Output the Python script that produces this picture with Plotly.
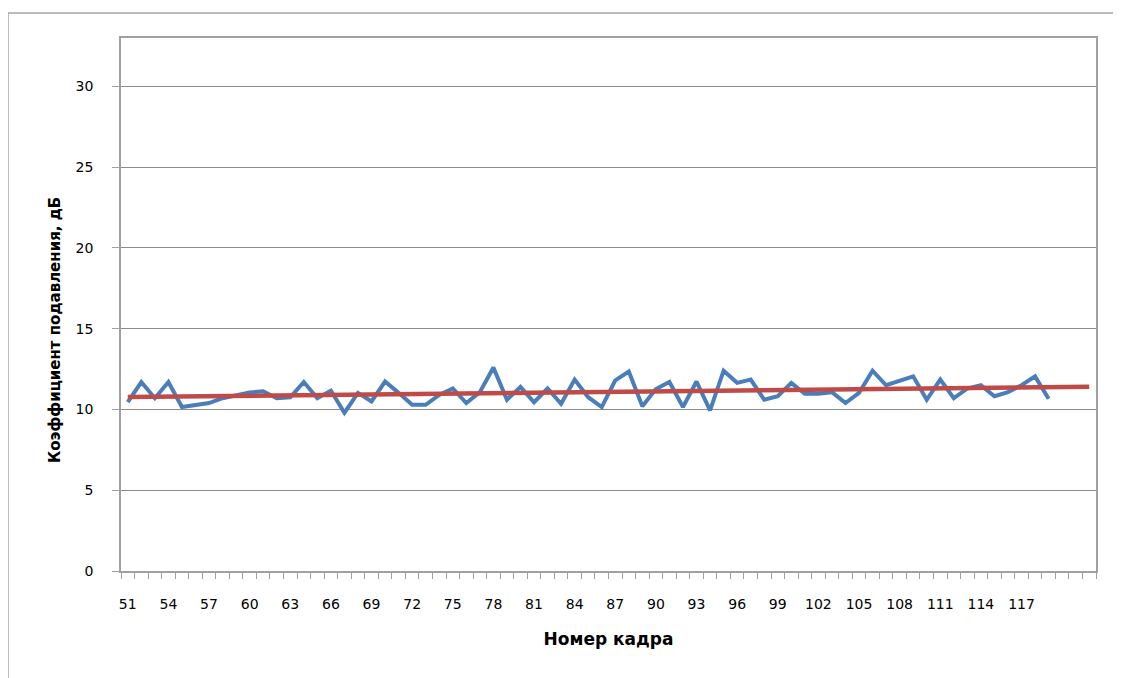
import numpy as np
import plotly.graph_objects as go

frames = list(range(51, 120))
suppression_db = [10.45, 11.7, 10.7, 11.7, 10.15, 10.3, 10.4, 10.7, 10.9, 11.05,
                  11.13, 10.7, 10.75, 11.7, 10.7, 11.17, 9.8, 11.03, 10.5, 11.73,
                  11.03, 10.29, 10.29, 10.9, 11.3, 10.4, 11.07, 12.6, 10.6, 11.4,
                  10.45, 11.3, 10.35, 11.85, 10.76, 10.15, 11.8, 12.35, 10.2, 11.27,
                  11.7, 10.15, 11.73, 9.94, 12.4, 11.65, 11.85, 10.6, 10.82, 11.65,
                  10.97, 10.97, 11.07, 10.4, 11.03, 12.4, 11.5, 11.8, 12.05, 10.6,
                  11.85, 10.7, 11.3, 11.5, 10.82, 11.07, 11.5, 12.05, 10.66]
tick_labels = list(range(51, 118, 3))
forecast_forward = 3
y_max = 33

# linear trendline (least squares) extended forward like Excel
coef = np.polyfit(frames, suppression_db, 1)
trend_x = np.array([frames[0], frames[-1] + forecast_forward])
trend_y = np.polyval(coef, trend_x)

fig = go.Figure()
fig.add_trace(go.Scatter(x=frames, y=suppression_db, mode="lines",
                         line=dict(color="#4A7EBB", width=4), showlegend=False))
fig.add_trace(go.Scatter(x=trend_x, y=trend_y, mode="lines",
                         line=dict(color="#BE4B48", width=4.5), showlegend=False))

axis_color = "#A0A0A0"
fig.update_layout(
    width=1113, height=670,
    margin=dict(l=113, r=25, t=30, b=107),
    paper_bgcolor="white", plot_bgcolor="white",
    font=dict(family="DejaVu Sans", size=13, color="#000000"),
    xaxis=dict(
        range=[frames[0] - 0.5, frames[-1] + forecast_forward + 0.5],
        tickmode="array", tickvals=tick_labels, ticktext=[str(v) for v in tick_labels],
        ticks="", ticklabelstandoff=19, tickfont=dict(size=14),
        showgrid=False, zeroline=False,
        showline=True, linecolor=axis_color, linewidth=1.5, mirror=True,
        minor=dict(tickmode="linear", tick0=frames[0] - 0.5, dtick=1,
                   ticks="outside", ticklen=6, tickcolor=axis_color, showgrid=False),
        title=dict(text="<b>Номер кадра</b>", font=dict(size=17), standoff=23),
    ),
    yaxis=dict(
        range=[0, y_max], tickmode="linear", tick0=0, dtick=5,
        ticks="outside", ticklen=7, tickcolor=axis_color, ticklabelstandoff=16,
        tickfont=dict(size=14),
        showgrid=True, gridcolor="#8C8C8C", gridwidth=1,
        zeroline=False,
        showline=True, linecolor=axis_color, linewidth=1.5, mirror=True,
    ),
    annotations=[
        dict(text="<b>Коэффициент подавления, дБ</b>", textangle=-90,
             xref="paper", yref="paper", x=-0.0677, y=0.452,
             xanchor="center", yanchor="middle", showarrow=False,
             font=dict(size=15)),
    ],
    shapes=[
        dict(type="line", xref="paper", yref="paper", x0=-0.1159, x1=-0.1159, y0=1.047, y1=-0.3,
             line=dict(color="#A6A6A6", width=1.5)),
        dict(type="line", xref="paper", yref="paper", x0=-0.1159, x1=1.1, y0=1.047, y1=1.047,
             line=dict(color="#A6A6A6", width=1.5)),
    ],
)

fig.write_html("out.html")
